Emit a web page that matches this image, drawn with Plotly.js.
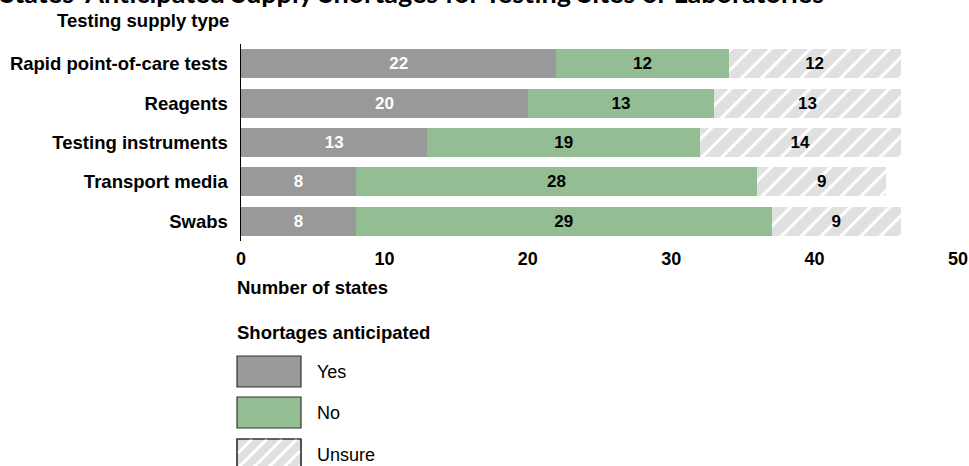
<!DOCTYPE html>
<html>
<head>
<meta charset="utf-8">
<script src="https://cdn.plot.ly/plotly-3.0.1.min.js"></script>
<style>html,body{margin:0;padding:0;background:#fff;}#chart{width:969px;height:466px;}</style>
</head>
<body>
<div id="chart"></div>
<script>
var categories = ["Rapid point-of-care tests", "Reagents", "Testing instruments", "Transport media", "Swabs"];
var yesValues = [22, 20, 13, 8, 8];
var noValues = [12, 13, 19, 28, 29];
var unsureValues = [12, 13, 14, 9, 9];
var xTicks = [0, 10, 20, 30, 40, 50];
var seriesNames = ["Yes", "No", "Unsure"];

var W = 969, H = 466;
var L = 241, R = 958, T = 44, B = 241;
function px(x) { return (x - L) / (R - L); }
function py(y) { return (B - y) / (B - T); }

var GRAY = "#999999", GREEN = "#93bd93", HATCH = "#e0e0e0";
var FONT = "Liberation Sans, Arial, sans-serif";

var common = {
  type: "bar", orientation: "h", y: categories,
  texttemplate: "%{x}", textposition: "inside", insidetextanchor: "middle",
  constraintext: "none", hoverinfo: "x+y", showlegend: false
};
var traces = [
  Object.assign({}, common, {name: seriesNames[0], x: yesValues,
    marker: {color: GRAY, line: {width: 0}},
    textfont: {family: FONT, size: 17, color: "#ffffff", weight: "bold"}}),
  Object.assign({}, common, {name: seriesNames[1], x: noValues,
    marker: {color: GREEN, line: {width: 0}},
    textfont: {family: FONT, size: 17, color: "#000000", weight: "bold"}}),
  Object.assign({}, common, {name: seriesNames[2], x: unsureValues,
    marker: {color: HATCH, line: {width: 0},
      pattern: {shape: "/", bgcolor: HATCH, fgcolor: "#ffffff", size: 14, solidity: 0.22}},
    textfont: {family: FONT, size: 17, color: "#000000", weight: "bold"}})
];

// legend drawn with shapes + annotations
var shapes = [];
var annotations = [];
var legendColors = [GRAY, GREEN, HATCH];
var legendTops = [356, 397, 439];
var bx0 = 237, bx1 = 301, bh = 31;
legendTops.forEach(function (top, i) {
  var y0 = top, y1 = top + bh;
  shapes.push({type: "rect", xref: "paper", yref: "paper",
    x0: px(bx0), x1: px(bx1), y0: py(y1), y1: py(y0),
    fillcolor: legendColors[i], line: {color: "#333333", width: 1.2}, layer: "above"});
  if (i === 2) {
    var s = 15;
    for (var c = bx0 - bh; c < bx1 + s; c += s) {
      var ax = c, ay = y1, bxp = c + bh, byp = y0;
      if (ax < bx0 + 1) { ay = y1 - (bx0 + 1 - c); ax = bx0 + 1; }
      if (bxp > bx1 - 1) { byp = y0 + (bxp - (bx1 - 1)); bxp = bx1 - 1; }
      if (bxp <= ax) continue;
      shapes.push({type: "line", xref: "paper", yref: "paper",
        x0: px(ax), y0: py(ay), x1: px(bxp), y1: py(byp),
        line: {color: "#ffffff", width: 3}, layer: "above"});
    }
    shapes.push({type: "rect", xref: "paper", yref: "paper",
      x0: px(bx0), x1: px(bx1), y0: py(y1), y1: py(y0),
      fillcolor: "rgba(0,0,0,0)", line: {color: "#333333", width: 1.2}, layer: "above"});
  }
  annotations.push({xref: "paper", yref: "paper", x: px(315), y: py(top + bh / 2),
    xanchor: "left", yanchor: "middle", showarrow: false, text: seriesNames[i],
    font: {family: FONT, size: 18, color: "#000"}});
});

annotations.push({xref: "paper", yref: "paper", x: px(-2), y: py(-8),
  xanchor: "left", yanchor: "middle", showarrow: false,
  text: "States' Anticipated Supply Shortages for Testing Sites or Laboratories",
  font: {family: "Lato, sans-serif", size: 27, color: "#000", weight: "bold"}});
annotations.push({xref: "paper", yref: "paper", x: px(231), y: py(21),
  xanchor: "right", yanchor: "middle", showarrow: false, text: "Testing supply type",
  font: {family: FONT, size: 18.5, color: "#000", weight: "bold"}});
annotations.push({xref: "paper", yref: "paper", x: px(235), y: py(287),
  xanchor: "left", yanchor: "middle", showarrow: false, text: "Number of states",
  font: {family: FONT, size: 18.5, color: "#000", weight: "bold"}});
annotations.push({xref: "paper", yref: "paper", x: px(235), y: py(332),
  xanchor: "left", yanchor: "middle", showarrow: false, text: "Shortages anticipated",
  font: {family: FONT, size: 18.5, color: "#000", weight: "bold"}});

var layout = {
  width: W, height: H,
  margin: {l: L, r: W - R, t: T, b: H - B, pad: 0},
  paper_bgcolor: "#ffffff", plot_bgcolor: "#ffffff",
  barmode: "stack", bargap: 0.26,
  showlegend: false,
  font: {family: FONT, color: "#000"},
  xaxis: {range: [0, 50], tickvals: xTicks, ticktext: xTicks.map(String),
    showgrid: false, zeroline: false, showline: false,
    ticks: "outside", ticklen: 1, tickcolor: "rgba(0,0,0,0)",
    tickfont: {family: FONT, size: 18, color: "#000", weight: "bold"}},
  yaxis: {autorange: "reversed", showgrid: false, zeroline: false,
    showline: true, linecolor: "#000", linewidth: 1.5,
    ticks: "outside", ticklen: 8, tickcolor: "rgba(0,0,0,0)",
    tickfont: {family: FONT, size: 18.5, color: "#000", weight: "bold"}},
  shapes: shapes,
  annotations: annotations
};

Plotly.newPlot("chart", traces, layout, {displayModeBar: false, staticPlot: true});
</script>
</body>
</html>
